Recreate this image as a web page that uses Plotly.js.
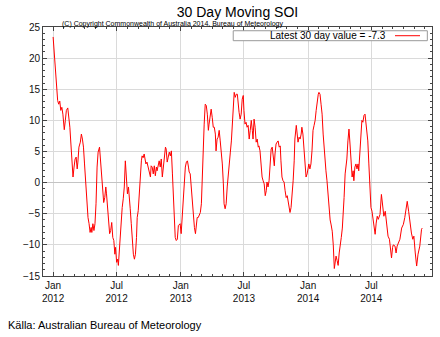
<!DOCTYPE html>
<html><head><meta charset="utf-8">
<script src="https://cdn.plot.ly/plotly-3.0.1.min.js"></script>
<style>html,body{margin:0;padding:0;background:#fff}#c{width:440px;height:337px}</style>
</head><body><div id="c"></div>
<script>
const startDate = Date.UTC(2012, 0, 1);
const dayOffsets = [0,4,7,10,13,16,19,22,25,28,30,32,35,38,42,45,48,51,54,57,60,63,66,69,71,74,78,81,84,87,90,93,97,100,103,106,109,111,114,117,120,123,126,129,133,135,138,142,145,148,151,153,156,159,162,165,168,171,174,177,179,182,185,187,190,193,196,198,201,204,207,210,213,216,218,221,224,227,230,233,236,239,241,244,247,250,253,255,258,261,263,266,269,272,275,279,281,284,287,290,293,296,298,301,304,307,310,313,316,319,322,324,327,330,333,336,339,342,345,347,350,353,356,359,362,364,367,370,373,376,379,382,385,388,390,393,396,399,402,405,408,410,413,416,419,422,425,427,430,433,436,439,442,445,447,450,453,456,459,462,465,467,470,473,476,479,482,485,488,490,493,496,499,502,505,508,511,513,516,519,522,525,528,530,533,536,539,542,545,547,550,553,556,559,562,565,568,571,573,576,579,582,585,588,590,593,596,599,602,605,608,611,613,616,619,622,625,628,631,634,636,639,642,645,648,651,653,656,659,662,665,668,671,674,676,679,682,685,688,691,693,697,699,702,705,708,711,713,716,719,722,725,728,731,733,736,739,742,745,748,751,754,757,760,762,765,768,771,774,777,779,782,785,788,791,794,797,800,803,806,809,811,814,817,820,823,826,829,831,834,837,840,842,845,848,851,854,857,860,862,865,868,871,874,876,879,882,885,888,891,894,897,899,902,905,908,911,914,918,923,926,929,932,937,941,945,948,952,956,960,964,967,970,973,975,980,983,986,990,994,999,1004,1008,1011,1015,1019,1023,1027,1031,1034,1038,1042,1046,1051,1056,1058];
const soiValues = [23.4,20.1,18.0,15.3,13.2,12.6,13.1,11.6,12.1,11.0,9.4,8.5,10.0,11.6,12.0,10.8,8.9,6.2,3.5,0.9,2.5,3.8,4.1,2.2,3.3,5.7,6.5,7.8,7.0,5.7,3.0,0.3,-3.4,-5.6,-6.6,-8.0,-7.2,-8.0,-6.6,-7.7,-6.6,-3.4,2.5,4.9,5.7,4.1,0.9,-0.7,-3.2,-2.4,-0.7,-1.8,-4.5,-6.1,-8.2,-7.7,-6.4,-8.8,-9.3,-11.5,-10.4,-12.8,-12.3,-13.3,-10.4,-7.7,-6.6,-4.0,-2.6,-0.7,3.5,0.9,-1.8,-0.7,-1.8,-4.2,-6.6,-9.3,-11.5,-12.3,-11.5,-8.8,-5.6,-4.5,-1.3,1.0,3.5,4.3,4.0,4.6,4.1,3.0,3.3,2.5,1.7,0.9,2.7,2.5,1.4,2.7,1.1,2.5,1.9,3.0,3.5,2.5,3.8,0.9,2.5,4.1,5.7,5.4,3.3,4.1,4.9,4.3,5.1,1.4,-3.4,-5.6,-8.8,-9.3,-9.1,-6.9,-6.6,-6.6,-8.2,-5.0,-2.4,0.3,2.5,3.3,3.5,2.5,1.7,1.4,-0.7,-3.4,-5.6,-7.2,-8.2,-6.9,-5.6,-5.6,-5.0,-4.8,-3.4,0.9,5.7,9.4,12.6,12.4,11.0,8.4,9.4,10.5,11.8,10.5,8.9,8.9,7.8,5.1,7.0,7.3,8.4,6.7,5.1,3.0,-0.2,-3.4,-4.2,-3.4,-0.7,1.4,4.1,4.9,6.7,8.9,12.1,14.5,13.7,14.2,14.2,12.6,11.3,10.2,11.0,13.4,14.0,11.6,9.4,9.7,8.9,9.2,7.0,8.4,10.0,8.4,7.0,10.2,8.9,6.5,7.0,5.7,5.9,5.1,1.9,0.9,0.3,-0.2,-2.1,-1.3,0.1,-0.7,0.3,2.5,5.4,5.7,4.1,2.7,4.6,6.2,6.5,6.7,5.7,5.9,3.5,0.9,0.3,0.1,-1.3,-2.4,-2.1,-3.2,-3.4,-4.8,-4.0,-2.4,0.3,3.5,7.0,9.2,8.4,6.5,7.3,7.0,7.8,8.9,7.8,5.1,2.5,0.9,1.4,2.2,3.0,2.2,3.0,5.1,8.4,9.2,10.0,11.6,13.2,14.2,14.5,14.2,12.6,11.0,7.8,5.4,3.0,1.9,0.3,-1.5,-4.5,-6.0,-6.8,-7.8,-10.0,-13.8,-12.6,-11.8,-12.5,-13.3,-11.3,-9.5,-8.8,-7.3,-5.6,-2.4,1.4,2.5,3.8,6.7,8.6,6.2,3.0,0.9,1.9,0.3,2.5,3.0,2.2,3.0,1.9,4.1,6.7,10.0,9.7,10.8,11.0,9.4,7.8,6.7,3.0,0.3,-4.0,-4.6,-6.2,-8.3,-6.5,-5.4,-5.9,-5.1,-1.9,-3.8,-5.4,-4.6,-6.5,-8.6,-9.1,-10.5,-12.1,-10.4,-10.0,-10.2,-11.3,-10.2,-9.7,-9.1,-7.3,-6.7,-5.6,-4.3,-3.0,-4.6,-6.5,-8.1,-9.1,-8.6,-11.3,-13.4,-11.5,-10.2,-7.5,-7.3];
const latestValue = -7.3;
const titleText = '30 Day Moving SOI';
const copyrightText = '(C) Copyright Commonwealth of Australia 2014, Bureau of Meteorology';
const sourceText = 'Källa: Australian Bureau of Meteorology';

const dates = dayOffsets.map(d => new Date(startDate + d * 86400000).toISOString().slice(0, 10));
const FONT = 'Liberation Sans, Arial, Helvetica, sans-serif';

const trace = {
  x: dates, y: soiValues, type: 'scatter', mode: 'lines',
  line: {color: '#ff0000', width: 1}, hoverinfo: 'skip', showlegend: false
};

const layout = {
  width: 440, height: 337,
  margin: {l: 43, r: 8, t: 27, b: 61},
  paper_bgcolor: '#fff', plot_bgcolor: '#fff',
  font: {family: FONT, size: 10, color: '#000'},
  showlegend: false,
  title: {text: titleText, font: {family: FONT, size: 14, color: '#000'},
          x: 0.5, xref: 'paper', xanchor: 'center', y: 0.964, yref: 'container', yanchor: 'middle'},
  xaxis: {
    type: 'date', range: ['2011-12-03', '2014-12-22'],
    tick0: '2012-01-01', dtick: 'M6', tickformat: '%b<br>%Y',
    showgrid: true, gridcolor: '#dadada', gridwidth: 1,
    showline: true, linecolor: '#444', linewidth: 1, mirror: 'allticks',
    ticks: 'inside', ticklen: 4, tickcolor: '#444', tickfont: {size: 10, color: '#111'},
    minor: {dtick: 'M1', tick0: '2012-01-01', ticks: 'inside', ticklen: 2, tickcolor: '#444', showgrid: false},
    zeroline: false, fixedrange: true
  },
  yaxis: {
    range: [-15, 25], dtick: 5, tick0: 0,
    showgrid: true, gridcolor: '#dadada', gridwidth: 1,
    zeroline: true, zerolinecolor: '#c4c4c4', zerolinewidth: 1.5,
    showline: true, linecolor: '#444', linewidth: 1, mirror: 'allticks',
    ticks: 'inside', ticklen: 4, tickcolor: '#444', tickfont: {size: 10, color: '#111'},
    minor: {dtick: 1, ticks: 'inside', ticklen: 2, tickcolor: '#444', showgrid: false},
    fixedrange: true
  },
  shapes: [
    {type: 'rect', xref: 'paper', yref: 'paper', x0: 0.489, x1: 0.988, y0: 0.945, y1: 0.985,
     fillcolor: '#fff', line: {color: '#999', width: 1}, layer: 'above'},
    {type: 'line', xref: 'paper', yref: 'paper', x0: (395 - 43) / 389, x1: (420 - 43) / 389, y0: 0.965, y1: 0.965,
     line: {color: '#ff0000', width: 1}, layer: 'above'}
  ],
  annotations: [
    {text: 'Latest 30 day value = ' + latestValue, xref: 'paper', yref: 'paper', x: 0.8877, y: 0.965,
     xanchor: 'right', yanchor: 'middle', showarrow: false, font: {family: FONT, size: 10, color: '#000'}},
    {text: copyrightText, xref: 'paper', yref: 'paper', x: 0.333, y: 1.013,
     xanchor: 'center', yanchor: 'middle', showarrow: false, font: {family: FONT, size: 7, color: '#000'}},
    {text: sourceText, xref: 'paper', yref: 'paper', x: -0.095, y: -0.197,
     xanchor: 'left', yanchor: 'middle', showarrow: false, font: {family: FONT, size: 11, color: '#000'}}
  ]
};

Plotly.newPlot('c', [trace], layout, {staticPlot: true, displayModeBar: false});
</script></body></html>
